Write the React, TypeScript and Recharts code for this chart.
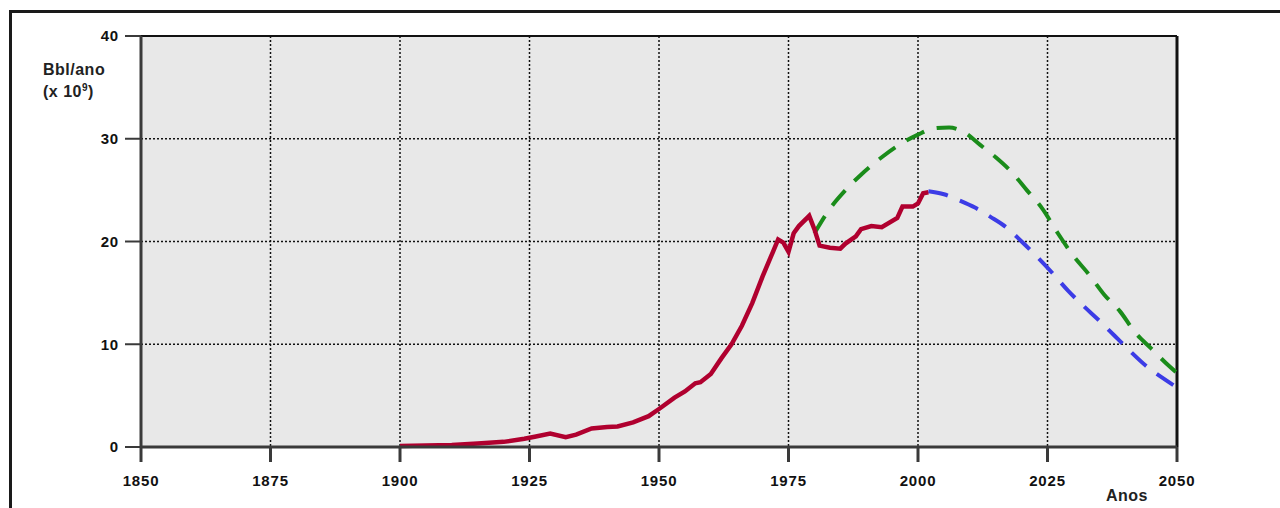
import {
  CartesianGrid,
  Line,
  LineChart,
  ReferenceLine,
  XAxis,
  YAxis,
} from "recharts";

// producao historica (vermelho)
const histYears = [
  1900, 1905, 1910, 1915, 1920, 1924, 1926, 1929, 1932, 1934, 1937, 1940, 1942, 1945,
  1948, 1950, 1953, 1955, 1957, 1958, 1960, 1962, 1964, 1966, 1968, 1970, 1972, 1973,
  1974, 1975, 1976, 1977, 1979, 1980, 1981, 1983, 1985, 1986, 1988, 1989, 1991, 1993,
  1996, 1997, 1999, 2000, 2001, 2002,
];
const histValues = [
  0.1, 0.15, 0.2, 0.35, 0.5, 0.8, 1.0, 1.3, 0.95, 1.2, 1.8, 1.95, 2.0, 2.4,
  3.0, 3.7, 4.8, 5.4, 6.2, 6.3, 7.1, 8.6, 10.0, 11.8, 14.0, 16.6, 19.0, 20.2,
  19.9, 19.0, 20.8, 21.5, 22.5, 21.2, 19.6, 19.4, 19.3, 19.8, 20.5, 21.2, 21.5, 21.4,
  22.3, 23.4, 23.4, 23.7, 24.7, 24.8,
];

// cenario alto (verde)
const highYears = [
  1980, 1983, 1986, 1989, 1993, 1997, 2000, 2003, 2006, 2009, 2012, 2015, 2018, 2021,
  2024, 2027, 2030, 2033, 2036, 2039, 2042, 2045, 2048, 2050,
];
const highValues = [
  20.8, 23.2, 25.0, 26.5, 28.2, 29.6, 30.4, 31.0, 31.1, 30.6, 29.4, 28.2, 26.8, 25.0,
  23.2, 20.8, 18.6, 16.8, 14.8, 13.2, 11.1, 9.6, 8.1, 7.2,
];

// cenario baixo (azul)
const lowYears = [
  2002, 2005, 2008, 2011, 2014, 2017, 2020, 2023, 2026, 2029, 2032, 2035, 2038, 2041,
  2044, 2047, 2050,
];
const lowValues = [
  24.9, 24.6, 24.0, 23.3, 22.4, 21.4, 20.0, 18.5, 16.9, 15.2, 13.7, 12.3, 10.8, 9.3,
  7.9, 6.8, 5.8,
];

const xTicks = [1850, 1875, 1900, 1925, 1950, 1975, 2000, 2025, 2050];
const yTicks = [0, 10, 20, 30, 40];

const toPoints = (years: number[], values: number[]) =>
  years.map((year, i) => ({ year, value: values[i] }));

const histData = toPoints(histYears, histValues);
const highData = toPoints(highYears, highValues);
const lowData = toPoints(lowYears, lowValues);

const tickStyle = {
  fontFamily: "'Liberation Sans', Arial, sans-serif",
  fontWeight: 700,
  fontSize: 15,
  letterSpacing: 0.8,
  fill: "#111",
};

const labelStyle: React.CSSProperties = {
  position: "absolute",
  fontFamily: "'Liberation Sans', Arial, sans-serif",
  fontWeight: 700,
  fontSize: 16,
  letterSpacing: 0.5,
  color: "#222",
  lineHeight: "22px",
};

export default function App() {
  return (
    <div
      style={{
        position: "absolute",
        left: 0,
        top: 0,
        width: 1280,
        height: 508,
        overflow: "hidden",
        background: "#fff",
      }}
    >
      <div
        style={{
          position: "absolute",
          left: 9,
          top: 10,
          width: 1400,
          height: 700,
          border: "3px solid #1a1a1a",
        }}
      />
      <LineChart
        width={1280}
        height={508}
        margin={{ top: 36, right: 103, left: 0, bottom: 0 }}
        style={{ position: "absolute", left: 0, top: 0 }}
      >
        <CartesianGrid
          fill="#e8e8e8"
          stroke="#111"
          strokeDasharray="2 2"
          strokeWidth={1.5}
        />
        <XAxis
          dataKey="year"
          type="number"
          domain={[1850, 2050]}
          ticks={xTicks}
          height={61}
          tickSize={15}
          tickMargin={13}
          tick={tickStyle}
          axisLine={{ stroke: "#3a3a3a", strokeWidth: 3 }}
          tickLine={{ stroke: "#3a3a3a", strokeWidth: 3 }}
          allowDuplicatedCategory={false}
        />
        <YAxis
          dataKey="value"
          type="number"
          domain={[0, 40]}
          ticks={yTicks}
          width={141}
          tickSize={16}
          tickMargin={6}
          tick={tickStyle}
          axisLine={{ stroke: "#3a3a3a", strokeWidth: 3 }}
          tickLine={{ stroke: "#3a3a3a", strokeWidth: 2 }}
        />
        <ReferenceLine y={40} stroke="#111" strokeWidth={2} />
        <ReferenceLine x={2050} stroke="#111" strokeWidth={3} />
        <Line
          data={highData}
          dataKey="value"
          type="monotone"
          stroke="#1a8c1a"
          strokeWidth={4}
          strokeDasharray="20 13"
          dot={false}
          isAnimationActive={false}
        />
        <Line
          data={lowData}
          dataKey="value"
          type="monotone"
          stroke="#3c3ce6"
          strokeWidth={4}
          strokeDasharray="20 13"
          dot={false}
          isAnimationActive={false}
        />
        <Line
          data={histData}
          dataKey="value"
          type="linear"
          stroke="#b0002f"
          strokeWidth={4.5}
          dot={false}
          isAnimationActive={false}
        />
      </LineChart>
      <div style={{ ...labelStyle, left: 43, top: 59 }}>Bbl/ano</div>
      <div style={{ ...labelStyle, left: 43, top: 81 }}>
        (x 10<sup style={{ fontSize: 10, lineHeight: 0 }}>9</sup>)
      </div>
      <div style={{ ...labelStyle, left: 1106, top: 485 }}>Anos</div>
    </div>
  );
}
